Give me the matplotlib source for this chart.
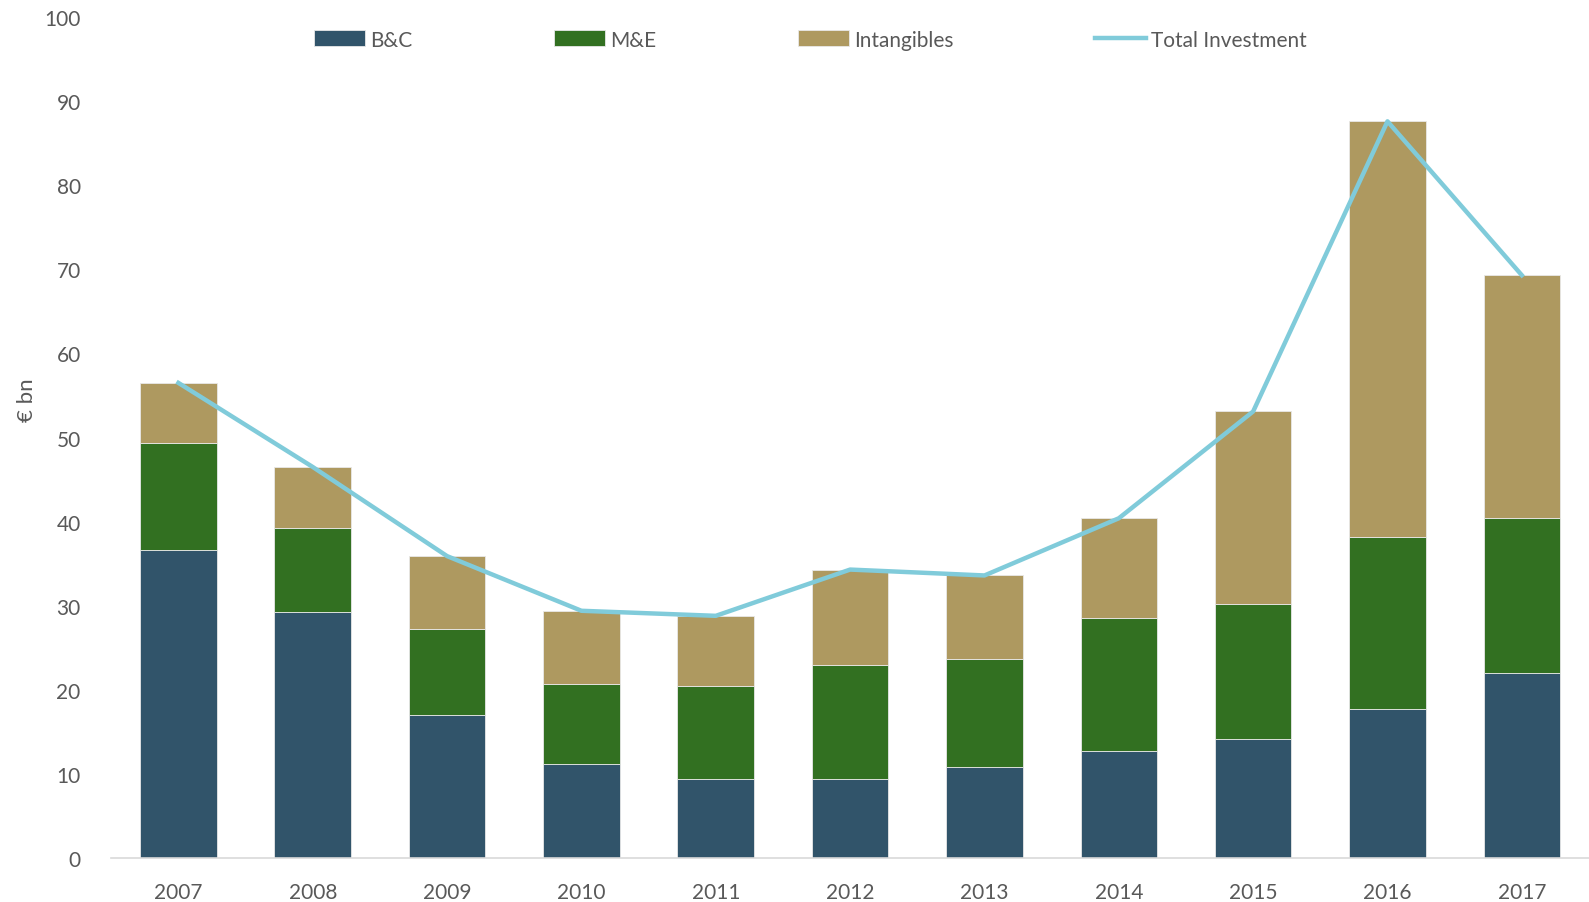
import numpy as np
import matplotlib.pyplot as plt

years = ['2007', '2008', '2009', '2010', '2011', '2012', '2013', '2014', '2015', '2016', '2017']
bc = [36.6, 29.2, 17.0, 11.2, 9.4, 9.4, 10.8, 12.7, 14.1, 17.7, 22.0]
me = [12.7, 10.1, 10.2, 9.5, 11.1, 13.5, 12.9, 15.9, 16.1, 20.5, 18.4]
intang = [7.2, 7.2, 8.7, 8.7, 8.3, 11.4, 9.9, 11.8, 22.9, 49.4, 28.9]

plt.rcParams['font.family'] = ['Lato', 'DejaVu Sans']
text_col = '#595959'
fs = 15

fig = plt.figure(figsize=(15.89, 9.03), dpi=100)
ax = fig.add_axes([0.07, 0.0487, 0.93, 0.9313])

x = np.arange(len(years))
w = 0.57
bc = np.array(bc)
me = np.array(me)
intang = np.array(intang)
total = bc + me + intang

b1 = ax.bar(x, bc, w, color='#31546A', edgecolor='#E8E8E8', linewidth=0.6)
b2 = ax.bar(x, me, w, bottom=bc, color='#327021', edgecolor='#E8E8E8', linewidth=0.6)
b3 = ax.bar(x, intang, w, bottom=bc + me, color='#AE9960', edgecolor='#E8E8E8', linewidth=0.6)
ln, = ax.plot(x, total, color='#80CBDA', linewidth=3.2, zorder=3)

ax.set_xlim(-0.5, 10.5)
ax.set_ylim(0, 100)
ax.set_yticks(range(0, 101, 10))
ax.set_xticks(x)
ax.set_xticklabels(years)
ax.tick_params(axis='both', length=0, labelsize=fs, colors=text_col)
ax.tick_params(axis='x', pad=17)
ax.tick_params(axis='y', pad=22)

for s in ['top', 'right', 'left']:
    ax.spines[s].set_visible(False)
ax.spines['bottom'].set_color('#D9D9D9')
ax.spines['bottom'].set_linewidth(1.2)

fig.text(0.017, 0.557, '€ bn', rotation=90, ha='center', va='center', fontsize=16, color=text_col)

leg = fig.legend([b1, b2, b3, ln], ['B&C', 'M&E', 'Intangibles', 'Total Investment'],
                 loc='center', bbox_to_anchor=(0.51, 0.955), ncol=4, frameon=False,
                 fontsize=fs, handlelength=2.45, handleheight=0.8, handletextpad=0.25,
                 columnspacing=6.8)
for t in leg.get_texts():
    t.set_color(text_col)

fig.savefig('out.png', dpi=100)
